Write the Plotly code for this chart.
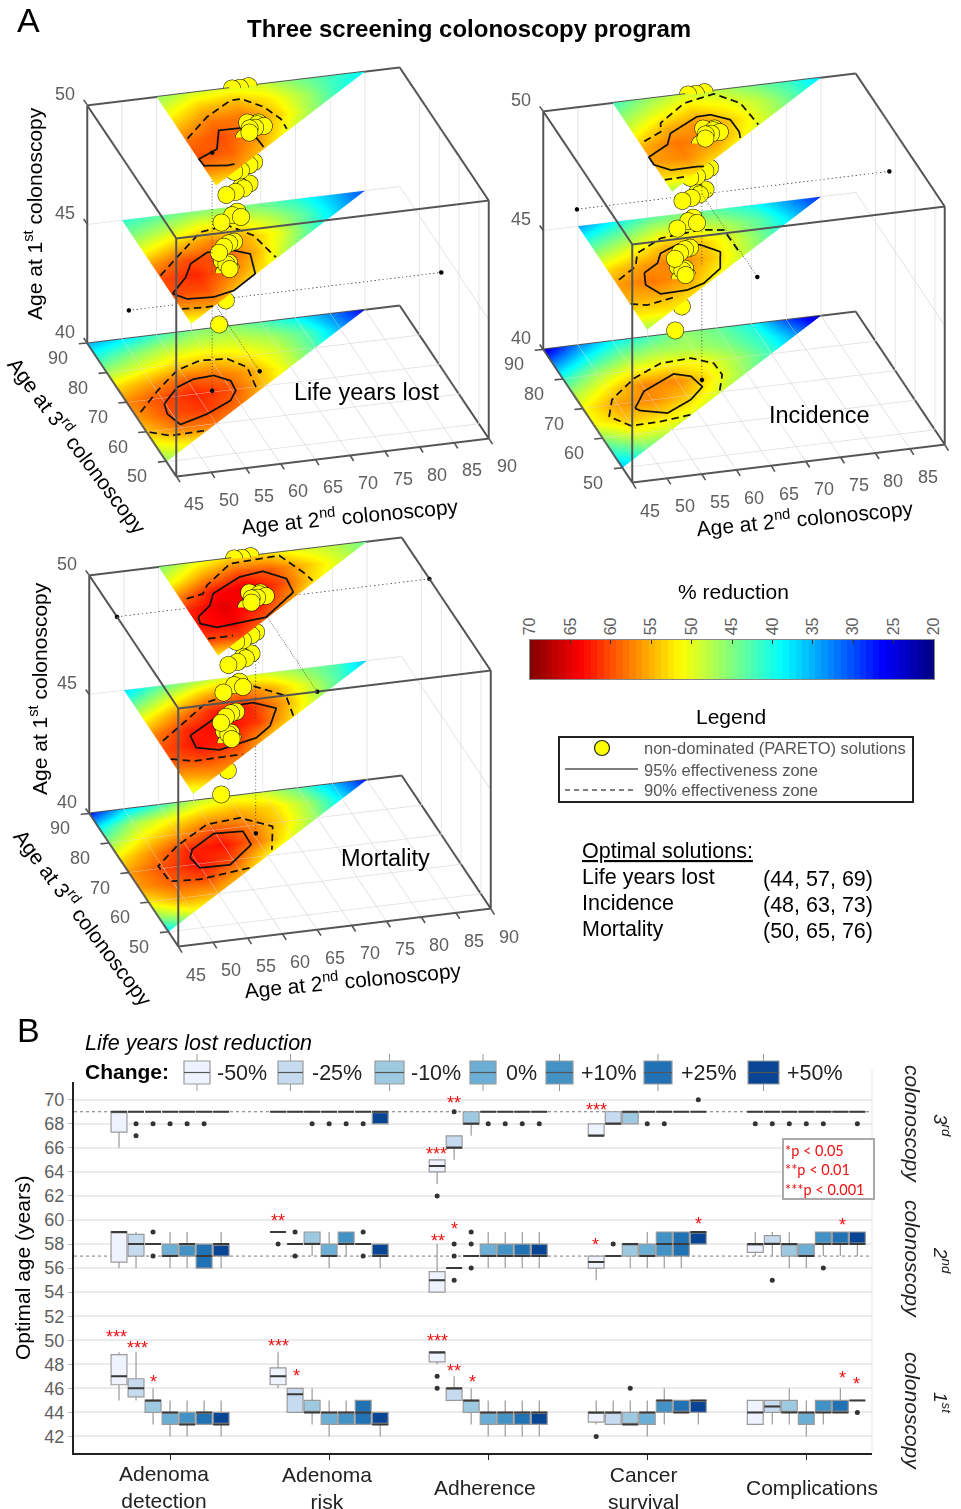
import math
import plotly.graph_objects as go

W, H = 961, 1509
def px(x): return x / W
def py(y): return 1 - y / H

# ---------- Panel A data ----------
X_TICKS = [45, 50, 55, 60, 65, 70, 75, 80, 85, 90]
Y_TICKS = [50, 60, 70, 80, 90]
Z_TICKS = [40, 45, 50]

LYL_40 = [[46,50,54,56,57,53,47,41,35],[52,58,60,60,56,50,45,38],[58,61,62,59,53,48,42],[58,60,58,54,49,45],[54,55,52,49,46],[49,49,47,43],[43,43,39],[35,33],[26]]
LYL_45 = [[50,56,60,60,56,50,45,41],[56,60,62,60,54,48,43],[54,58,60,57,51,45],[52,55,55,51,46],[47,50,48,44],[42,43,41],[36,36],[30]]
LYL_50 = [[52,57,60,58,54,50,46],[56,59,60,58,54,49],[54,57,58,55,50],[50,53,52,49],[46,47,45],[41,42],[39]]
INC_40 = [[36,41,46,51,51,47,41,33,24],[44,50,54,56,52,47,40,33],[49,53,57,57,51,45,39],[50,54,57,52,47,42],[49,52,51,47,46],[46,47,45,44],[42,41,40],[34,30],[23]]
INC_45 = [[47,52,55,56,53,47,41,34],[52,55,58,56,51,45,39],[53,56,58,55,49,43],[51,54,54,50,45],[48,49,47,43],[43,43,40],[36,34],[28]]
INC_50 = [[47,53,56,55,50,46,42],[53,57,58,55,50,46],[53,57,57,53,49],[51,53,51,48],[48,48,45],[43,42],[37]]
MOR_40 = [[38,46,52,56,56,52,46,39,27],[50,56,59,60,57,52,47,37],[55,60,63,62,56,51,42],[55,60,63,60,54,48],[52,58,58,55,50],[50,53,53,49],[46,47,44],[38,36],[27]]
MOR_45 = [[49,55,59,60,57,51,44,37],[56,60,63,62,57,50,43],[58,62,64,62,55,47],[55,61,62,58,50],[53,56,55,49],[48,49,46],[42,43],[36]]
MOR_50 = [[52,60,63,62,57,50,45],[60,64,65,63,56,50],[59,63,65,60,53],[56,60,59,53],[52,54,50],[49,48],[44]]

# Contours as (x, y) on each plane. None = gap
LYL_40_S = [(49.8,67.9),(53,72.6),(55.9,74.5),(58.9,74.9),(60.7,72.6),(60.5,69.3),(58.9,66.4),(54.6,63.1),(50.1,60.8),(49.3,64.6),(49.8,67.9)]
LYL_40_D = [(45.9,66.2),(50.1,72.3),(54.5,77.9),(58.4,80.1),(62.2,79.6),(64.1,76.2),(63.4,68.5),None,(45.3,59.6),(47.8,57.7),(52.7,58)]
LYL_45_S = [(50.1,64.8),(53.3,69.4),(55.2,73.5),(58.4,76.4),(62.1,76),(64,74.3),(62.9,67.9),(58.6,63.5),(55.3,62.2),(51.6,62.6),(50.1,64.8)]
LYL_45_D = [(50.1,70.9),(54,76.1),(59.3,83),(63.5,84.1),(66.1,79.9),(67.1,72.3),None,(50,59.7),(53.1,59.3),(54.4,59.4)]
LYL_50_S = [(59.3,65.8),(58.2,65.6),(55.1,66.4),(55,68.7),(58.3,71.1),(60.2,76.9),(63.4,76.8),(64.5,74.4),(64.7,70)]
LYL_50_D = [(55.3,75.5),(59.8,81.5),(64.4,85.8),(66,85.9),(68.3,82.5),(69.5,78.1),(69.4,74.8)]
INC_40_S = [(51.9,67.8),(54.6,72.8),(60.1,77.1),(62.2,75.7),(62.8,72),(60.1,68.4),(55.8,65.1),(52.4,66.9),(51.9,67.8)]
INC_40_D = [(58.7,63.7),(54.1,62.7),(49.8,62.5),(47.7,66.2),(49.6,71.4),(54.4,77.2),(59.3,80.9),(63.8,81.4),(66.4,78.9),(66.5,75),(64.6,69.7)]
INC_45_S = [(54.6,72.6),(53.7,68.8),(54.9,65.4),(58.8,65.6),(61.6,67.1),(65.1,71.1),(66.6,76.3),(64.6,79.2),(62,80.5),(58.5,78.1),(57.2,75.1),(54.6,72.6)]
INC_45_D = [(50.6,71.4),(54,74.9),(55.4,79),(59.9,82.8),(65.9,83.9),(69,83),(69.1,75.1),None,(50,63.4),(52.1,62.4),(56.9,64)]
INC_50_S = [(61.4,66.4),(60.5,66.6),(56.7,66.5),(54.9,68.8),(54.9,71.4),(58.5,74.6),(59.9,78),(64.9,82.2),(66.9,82.3),(69.1,80),(69.2,75.9),(68.8,73.9)]
INC_50_D = [(55.7,76.5),(58.8,78.9),(59.5,81.6),(64.4,86.9),(69.2,88.7),(71.9,84.8),(72.4,77.4),None,(55,63.7),(58.3,63.9)]
MOR_40_S = [(54.4,72),(55.4,74.5),(59.7,78.7),(63.8,78.3),(63.7,73.8),(59.1,68.3),(54.8,68.5),(54.4,72)]
MOR_40_D = [(61.4,66.6),(53.8,64.9),(49.6,65.4),(49.4,70.6),(53.7,76.2),(59.6,81.8),(64.6,82.6),(68.2,78.7),(66,71.4)]
MOR_45_S = [(54.7,73),(54.4,69),(57.3,67.4),(63.3,69.8),(66.2,73),(68.6,78.3),(66,80.9),(63.1,80.7),(59.3,77.3),(54.7,73)]
MOR_45_D = [(50.6,72.4),(54.2,76.4),(59.8,82.7),(67.5,86.1),(71,81.8),(70.2,75.3),None,(50,66.4),(52.9,64.9),(60,65.2)]
MOR_50_S = [(55.7,72.5),(55.4,70.4),(57.3,68.6),(64.7,69.9),(70.6,76.7),(70.9,81.2),(68.4,84.4),(64.8,83.5),(59.8,79.3),(58.3,75.7),(55.7,72.5)]
MOR_50_D = [(55.8,78.7),(58.4,79.6),(59.7,82.1),(64.7,88),(72,88.7),(73.7,82.5),(74.2,79.6),None,(55.1,65.4),(58.7,65.4)]

# Non-dominated solutions (2nd, 3rd, 1st)
PARETO_X = [65.8,66.9,68.2, 64,65.2,63.4,64.6,63,65.5,63.8,65.9, 64.3,63.4,61.8,60.8, 63.9,62.7,61.3,59.8,62.5, 61.9,61.9,60.9,58.8, 60.9,60.1,59.1,57.9, 59.2,59.2,58.8,60.2,59.7,58.9, 58.8,57.9]
PARETO_Y = [89.9,89.8,90, 75.9,75,72.7,74,74,75.5,74,74.2, 73.5,72.7,71.4,71.2, 74.4,73.1,72.3,71.7,73.7, 73.5,71.7,72.6,70.7, 71.7,71.4,70.5,68.8, 69.6,68,69.6,70.9,70,70.8, 68.5,68.7]
PARETO_Z = [50,50,50, 50.37,50.37,50.37,50.37,50,50.37,50.37,50.37, 49,49,49,49, 48,48,48,48,48, 47,47,47,47, 46,46,46,46, 45.37,45.37,45,45,45.37,45.37, 44,43]

OPT_LYL = (57, 69, 44)
OPT_INC = (63, 73, 48)
OPT_MOR = (65, 76, 50)

JET = [[0,'rgb(0,0,128)'],[0.125,'rgb(0,0,255)'],[0.375,'rgb(0,255,255)'],[0.625,'rgb(255,255,0)'],[0.875,'rgb(255,0,0)'],[1,'rgb(128,0,0)']]
EYE_DIR = (-0.248, -0.870, 0.426)
EYE_MAG = 1.343
ASPECT = 1.511
SCENE_S = 430
PAD_XY = 0.5
PAD_Z = 0.5
EDGE = '#555555'
GRID = '#dedede'
DASH_ON, DASH_OFF = 7.5, 4.5

fig = go.Figure()

def add_surface(scene, rows, z):
    n = len(rows)
    X, Y, C = [], [], []
    for c in range(n):
        xr, yr, vr = [], [], []
        for a in range(n):
            aa = min(a, c)
            xr.append(z + 5 + 5 * aa); yr.append(z + 10 + 5 * c); vr.append(rows[aa][c - aa])
        X.append(xr); Y.append(yr); C.append(vr)
    fig.add_trace(go.Surface(x=X, y=Y, z=[[z] * n for _ in range(n)], surfacecolor=C, cmin=20, cmax=70, colorscale=JET, showscale=False,
                             hoverinfo='skip', lighting=dict(ambient=1, diffuse=0, specular=0, roughness=0.5, fresnel=0),
                             contours=dict(x=dict(highlight=False), y=dict(highlight=False), z=dict(highlight=False)), scene=scene))

def dashed(pts):
    """Split a polyline into on/off strokes (style only), measured in on-screen lengths."""
    out, on, left = [], True, DASH_ON
    prev = None
    for p in pts:
        if p is None:
            out.append(None); prev = None; on, left = True, DASH_ON
            continue
        if prev is None:
            out.append(p); prev = p
            continue
        dx, dy = p[0] - prev[0], p[1] - prev[1]
        seg = math.hypot(6.96 * dx - 1.98 * dy, 0.84 * dx + 2.96 * dy)
        done = 0.0
        while seg - done > left:
            done += left
            t = done / seg
            q = (prev[0] + t * dx, prev[1] + t * dy)
            out.append(q)
            if on:
                out.append(None)
            on = not on
            left = DASH_ON if on else DASH_OFF
        left -= seg - done
        if on:
            out.append(p)
        prev = p
    return out

def add_contour(scene, pts, z, dash=False):
    use = dashed(pts) if dash else pts
    xs = [p[0] if p else None for p in use]
    ys = [p[1] if p else None for p in use]
    zs = [z + 0.04 if p else None for p in use]
    fig.add_trace(go.Scatter3d(x=xs, y=ys, z=zs, mode='lines', line=dict(color='#111', width=3.5),
                               hoverinfo='skip', showlegend=False, connectgaps=False, scene=scene))

def add_grid(scene):
    gx, gy, gz = [], [], []
    def seg(a, b):
        gx.extend([a[0], b[0], None]); gy.extend([a[1], b[1], None]); gz.extend([a[2], b[2], None])
    for t in X_TICKS[1:-1]:
        seg((t, 45, 40), (t, 90, 40)); seg((t, 90, 40), (t, 90, 50))
    for t in Y_TICKS[:-1]:
        seg((45, t, 40), (90, t, 40)); seg((90, t, 40), (90, t, 50))
    seg((45, 90, 45), (90, 90, 45)); seg((90, 90, 45), (90, 45, 45))
    fig.add_trace(go.Scatter3d(x=gx, y=gy, z=gz, mode='lines', line=dict(color=GRID, width=1.5), hoverinfo='skip', showlegend=False, scene=scene))

def add_box(scene):
    x0, x1, y0, y1, z0, z1 = X_TICKS[0], X_TICKS[-1], 45, 90, Z_TICKS[0], Z_TICKS[-1]
    ex, ey, ez = [], [], []
    def seg(a, b):
        ex.extend([a[0], b[0], None]); ey.extend([a[1], b[1], None]); ez.extend([a[2], b[2], None])
    for z in (z0, z1):
        seg((x0,y0,z),(x1,y0,z)); seg((x1,y0,z),(x1,y1,z)); seg((x1,y1,z),(x0,y1,z)); seg((x0,y1,z),(x0,y0,z))
    seg((x0,y0,z0),(x0,y0,z1)); seg((x1,y0,z0),(x1,y0,z1)); seg((x0,y1,z0),(x0,y1,z1))
    fig.add_trace(go.Scatter3d(x=ex, y=ey, z=ez, mode='lines', line=dict(color=EDGE, width=4), hoverinfo='skip', showlegend=False, scene=scene))

def add_opt(scene, opt):
    x, y, z = opt
    lx = [45, 90, None, x, x, None, x, x]
    ly = [y, y, None, 45, y, None, y, y]
    lz = [z, z, None, z, z, None, 40, 50]
    fig.add_trace(go.Scatter3d(x=lx, y=ly, z=lz, mode='lines', line=dict(color='#333', width=1.5, dash='dot'), hoverinfo='skip', showlegend=False, scene=scene))
    fig.add_trace(go.Scatter3d(x=[45, 90, x, x, x], y=[y, y, 45, y, y], z=[z, z, z, 40.2, 50.2], mode='markers',
                               marker=dict(color='black', size=2.6), hoverinfo='skip', showlegend=False, scene=scene))

def add_pareto(scene):
    fig.add_trace(go.Scatter3d(x=PARETO_X, y=PARETO_Y, z=PARETO_Z, mode='markers',
                               marker=dict(color='#ffff00', size=10, line=dict(color='black', width=1.5)),
                               hoverinfo='skip', showlegend=False, scene=scene))

def scene_layout(cx, cy, xticks):
    s = SCENE_S / 2
    notes = []
    gray = dict(size=18, color='#5f5f5f', family='Liberation Sans')
    tick = dict(showarrow=True, arrowhead=0, arrowwidth=1.6, arrowcolor=EDGE, standoff=0, startstandoff=0, text=' ', font=dict(size=1))
    for t in xticks:
        notes.append(dict(x=t, y=45, z=40, text=str(t), showarrow=False, xshift=18, yshift=-28, font=gray))
    for t in X_TICKS:
        notes.append(dict(tick, x=t, y=45, z=40, ax=5, ay=8))
    for t in Y_TICKS:
        notes.append(dict(x=45, y=t, z=40, text=str(t), showarrow=False, xshift=-29, yshift=-15, font=gray))
        notes.append(dict(tick, x=45, y=t, z=40, ax=-10, ay=1))
    for t in Z_TICKS:
        notes.append(dict(x=45, y=90, z=t, text=str(t), showarrow=False, xshift=-22, yshift=11, font=gray))
        notes.append(dict(tick, x=45, y=90, z=t, ax=-5, ay=-7))
    ax = dict(showbackground=False, showgrid=False, zeroline=False, showline=False,
              showticklabels=False, ticks='', title=dict(text=''), showspikes=False)
    sxy = ASPECT * (45 + 2 * PAD_XY) / 45
    return dict(domain=dict(x=[px(cx - s), px(cx + s)], y=[py(cy + s), py(cy - s)]),
                aspectmode='manual', aspectratio=dict(x=sxy, y=sxy, z=0.81 * ASPECT * (10 + 2 * PAD_Z) / 10),
                xaxis=dict(ax, range=[45 - PAD_XY, 90 + PAD_XY]),
                yaxis=dict(ax, range=[45 - PAD_XY, 90 + PAD_XY]),
                zaxis=dict(ax, range=[40 - PAD_Z, 50 + PAD_Z]),
                camera=dict(projection=dict(type='orthographic'), center=dict(x=0, y=0, z=0), up=dict(x=0, y=0, z=1),
                            eye=dict(x=EYE_DIR[0] * EYE_MAG, y=EYE_DIR[1] * EYE_MAG, z=EYE_DIR[2] * EYE_MAG)),
                annotations=notes, bgcolor='rgba(0,0,0,0)', dragmode=False)

PANELS = [
    ('scene', [(LYL_40,40,LYL_40_S,LYL_40_D),(LYL_45,45,LYL_45_S,LYL_45_D),(LYL_50,50,LYL_50_S,LYL_50_D)], OPT_LYL),
    ('scene2', [(INC_40,40,INC_40_S,INC_40_D),(INC_45,45,INC_45_S,INC_45_D),(INC_50,50,INC_50_S,INC_50_D)], OPT_INC),
    ('scene3', [(MOR_40,40,MOR_40_S,MOR_40_D),(MOR_45,45,MOR_45_S,MOR_45_D),(MOR_50,50,MOR_50_S,MOR_50_D)], OPT_MOR),
]
for scene, planes, opt in PANELS:
    add_grid(scene)
    add_box(scene)
    for rows, z, s, d in planes:
        add_surface(scene, rows, z)
        add_contour(scene, s, z)
        add_contour(scene, d, z, dash=True)
    add_opt(scene, opt)
    add_pareto(scene)

# ---------- Panel B data ----------
CATEGORIES = ['Adenoma<br>detection', 'Adenoma<br>risk', 'Adherence', 'Cancer<br>survival', 'Complications']
CHANGES = ['-50%', '-25%', '-10%', '0%', '+10%', '+25%', '+50%']
COLORS = ['#EFF3FF', '#C6DBEF', '#9ECAE1', '#6BAED6', '#4292C6', '#2171B5', '#084594']
AGE_TICKS = list(range(42, 71, 2))
REF_AGES = [69, 57, 44]
# (q1, median, q3, lower, upper) per category: 1st, 2nd, 3rd colonoscopy
BOX_M50 = [(46.3,47,48.8,45,49),(56.5,59,59,56,59),(67.3,69,69,66,69), (46.3,47,47.7,46,49),(59,59,59,59,59),(69,69,69,69,69),
           (48.2,49,49,48,49),(54,55,55.7,54,58),(64,64.5,65,63,65), (43.2,44,44,43,45),(56,56.5,57,55,57),(67,67,68,67,68),
           (43,44,45,43,45),(57.3,58,58,57,59),(69,69,69,69,69)]
BOX_M25 = [(45.3,46,46.8,45,49),(57,58,58.8,56,59),(69,69,69,69,69), (44,45.5,46,44,46),(58,58,58,58,58),(69,69,69,69,69),
           (45,46,46,45,47),(56,56,56,56,56),(66,66,67,65,67), (43,44,44,43,45),(57,57,57,57,57),(68,68,69,68,69),
           (44,44.5,45,43,45),(58,58,58.7,57,59),(69,69,69,69,69)]
BOX_M10 = [(44,45,45,43,46),(58,58,58,58,58),(69,69,69,69,69), (44,44,45,43,46),(58,58,59,57,59),(69,69,69,69,69),
           (44,45,45,43,46),(57,57,57,57,57),(68,68,69,67,69), (43,43,44,43,45),(57,58,58,56,58),(68,69,69,68,69),
           (44,44,45,43,46),(57,58,58,56,59),(69,69,69,69,69)]
BOX_0 = [(43,44,44,42,45),(57,57,58,56,59),(69,69,69,69,69), (43,44,44,42,45),(57,57,58,56,59),(69,69,69,69,69),
         (43,44,44,42,45),(57,57,58,56,59),(69,69,69,69,69), (43,44,44,42,45),(57,57,58,56,59),(69,69,69,69,69),
         (43,44,44,42,45),(57,57,58,56,58),(69,69,69,69,69)]
BOX_P10 = [(43,43,44,42,45),(57,58,58,56,59),(69,69,69,69,69), (43,44,44,43,45),(58,58,59,57,59),(69,69,69,69,69),
           (43,44,44,42,45),(57,57,58,56,59),(69,69,69,69,69), (44,45,45,43,46),(57,58,59,56,59),(69,69,69,69,69),
           (44,44,45,43,45),(58,58,59,57,59),(69,69,69,69,69)]
BOX_P25 = [(43,44,44,43,45),(56,57,58,56,58),(69,69,69,69,69), (43,44,45,43,45),(58,58,58,58,58),(69,69,69,69,69),
           (43,44,44,42,45),(57,57,58,56,59),(69,69,69,69,69), (44,44,45,44,45),(57,58,59,56,59),(69,69,69,69,69),
           (44,44,45,44,46),(58,58,59,57,59),(69,69,69,69,69)]
BOX_P50 = [(43,43,44,42,45),(57,58,58,56,59),(69,69,69,69,69), (43,43,44,42,44),(57,57,58,56,58),(68,69,69,68,69),
           (43,44,44,42,45),(57,57,58,56,59),(69,69,69,69,69), (44,45,45,43,45),(58,59,59,58,59),(69,69,69,69,69),
           (45,45,45,45,45),(58,58,59,57,59),(69,69,69,69,69)]
ALL_BOXES = [BOX_M50, BOX_M25, BOX_M10, BOX_0, BOX_P10, BOX_P25, BOX_P50]
# outliers: (category index, age)
OUT_M50 = [(1,58),(2,62),(2,47),(2,46),(3,42),(4,68)]
OUT_M25 = [(0,68),(0,67),(1,59),(1,57),(2,69),(2,58),(2,57),(2,55),(3,58),(4,68),(4,55)]
OUT_M10 = [(0,68),(0,59),(0,57),(1,68),(2,59),(2,58),(2,56),(3,46),(4,68)]
OUT_0 = [(0,68),(1,68),(2,68),(3,68),(4,68)]
OUT_P10 = [(0,68),(1,68),(2,68),(3,68),(4,68),(4,56)]
OUT_P25 = [(0,68),(1,68),(1,59),(1,57),(2,68)]
OUT_P50 = [(2,68),(3,70),(4,68),(4,44)]
ALL_OUT = [OUT_M50, OUT_M25, OUT_M10, OUT_0, OUT_P10, OUT_P25, OUT_P50]
# significance: (stars, x position in category units, age)
STARS = [('***',-.335,50.5),('***',-.207,49.6),('*',-.107,46.8),('**',.68,60.2),('***',.68,49.8),('*',.797,47.3),
         ('***',1.678,65.7),('**',1.786,70),('**',1.686,58.5),('*',1.786,59.5),('***',1.68,50.2),('**',1.786,47.7),('*',1.899,46.8),
         ('***',2.68,69.4),('*',2.677,58.2),('*',3.32,59.9),('*',4.227,59.8),('*',4.227,47.1),('*',4.317,46.6)]

STEP = 0.107
BOX_W = 0.1
for i, (stats, col) in enumerate(zip(ALL_BOXES, COLORS)):
    pos = [c + (i - 3) * STEP for c in range(5) for _ in range(3)]
    fig.add_trace(go.Box(x=pos, q1=[s[0] for s in stats], median=[s[1] for s in stats], q3=[s[2] for s in stats],
                         lowerfence=[s[3] for s in stats], upperfence=[s[4] for s in stats], boxpoints=False, width=BOX_W,
                         fillcolor=col, line=dict(color='#9a9a9a', width=1.2), whiskerwidth=0, name=CHANGES[i], showlegend=False,
                         hoverinfo='skip', xaxis='x', yaxis='y'))
    fig.add_trace(go.Box(x=pos, q1=[s[1] for s in stats], median=[s[1] for s in stats], q3=[s[1] for s in stats],
                         lowerfence=[s[1] for s in stats], upperfence=[s[1] for s in stats], boxpoints=False, width=BOX_W,
                         fillcolor='rgba(0,0,0,0)', line=dict(color='#3a3a3a', width=2), whiskerwidth=0, showlegend=False,
                         hoverinfo='skip', xaxis='x', yaxis='y'))
    if ALL_OUT[i]:
        fig.add_trace(go.Scatter(x=[o[0] + (i - 3) * STEP for o in ALL_OUT[i]], y=[o[1] for o in ALL_OUT[i]], mode='markers',
                                 marker=dict(color='#333', size=5), showlegend=False, hoverinfo='skip', xaxis='x', yaxis='y'))

# ---------- Colour bar ----------
CBAR_TICKS = [70, 65, 60, 55, 50, 45, 40, 35, 30, 25, 20]
CBAR_LEVELS = [20 + i * 50 / 63 for i in range(64)]
fig.add_trace(go.Heatmap(x=CBAR_LEVELS, y=[0, 1], z=[CBAR_LEVELS, CBAR_LEVELS], zmin=20, zmax=70, colorscale=JET, showscale=False,
                         hoverinfo='skip', xaxis='x2', yaxis='y2'))

shapes, ann = [], []
def text(x, y, s, size, color='black', anchor='center', angle=0, family='Liberation Sans', **kw):
    ann.append(dict(xref='paper', yref='paper', x=px(x - 2 if anchor == 'left' else x), y=py(y), text=s, showarrow=False, xanchor=anchor, yanchor='middle',
                    textangle=angle, font=dict(size=size, color=color, family=family), **kw))
def rect(x0, y0, x1, y1, line, width, fill='rgba(0,0,0,0)'):
    shapes.append(dict(type='rect', xref='paper', yref='paper', x0=px(x0), x1=px(x1), y0=py(y0), y1=py(y1), line=dict(color=line, width=width), fillcolor=fill))
def pline(x0, y0, x1, y1, color, width, dash='solid'):
    shapes.append(dict(type='line', xref='paper', yref='paper', x0=px(x0), x1=px(x1), y0=py(y0), y1=py(y1), line=dict(color=color, width=width, dash=dash)))

text(28, 20, 'A', 34)
text(28, 1030, 'B', 34)
text(469, 28, '<b>Three screening colonoscopy program</b>', 24)
text(366, 392, 'Life years lost', 23.5)
text(819, 415, 'Incidence', 23.5)
text(385, 858, 'Mortality', 23.5)
AGE1 = 'Age at 1<sup>st</sup> colonoscopy'
AGE2 = 'Age at 2<sup>nd</sup> colonoscopy'
AGE3 = 'Age at 3<sup>rd</sup> colonoscopy'
text(33, 214, AGE1, 21, angle=-90)
text(38, 689, AGE1, 21, angle=-90)
text(78, 445, AGE3, 21, angle=53)
text(84, 917, AGE3, 21, angle=53)
text(350, 515, AGE2, 21, angle=-5.5)
text(805, 517, AGE2, 21, angle=-5.5)
text(353, 979, AGE2, 21, angle=-5.5)

text(733, 591, '% reduction', 21)
text(731, 717, 'Legend', 21)
rect(559, 737, 913, 802, '#222', 2)
shapes.append(dict(type='circle', xref='paper', yref='paper', x0=px(594.5), x1=px(609.5), y0=py(740.5), y1=py(755.5), fillcolor='#ffff00', line=dict(color='#222', width=1.2)))
pline(565, 769, 638, 769, '#555', 1.5)
pline(565, 790, 636, 790, '#555', 1.5, '5px,4px')
LEGEND_TXT = ['non-dominated (PARETO) solutions', '95% effectiveness zone', '90% effectiveness zone']
for y, s in zip([748.5, 769.5, 790], LEGEND_TXT):
    text(644, y, s, 16.5, color='#555', anchor='left')
text(582, 851, '<u>Optimal solutions:</u>', 21.5, anchor='left')
SOLUTIONS = [('Life years lost', OPT_LYL), ('Incidence', OPT_INC), ('Mortality', OPT_MOR)]
for y, (name, o) in zip([877, 903, 929], SOLUTIONS):
    text(582, y, name, 21.5, anchor='left')
    text(763, y + 2, f'({o[2]}, {o[0]}, {o[1]})', 21.5, anchor='left')

# Panel B surrounding text
text(85, 1043, '<i>Life years lost reduction</i>', 21.5, anchor='left')
text(85, 1071, '<b>Change:</b>', 21, anchor='left')
KEY_X = [(184,210,217),(278,303,312),(375,404,411),(470,496,506),(546,573,581),(644,672,681),(748,779,787)]
for (a, b, t), col, lab in zip(KEY_X, COLORS, CHANGES):
    m = (a + b) / 2
    pline(m, 1054, m, 1091, '#999', 1)
    rect(a, 1061, b, 1084, '#999', 1.2, col)
    pline(a, 1072.5, b, 1072.5, '#555', 1.2)
    text(t, 1073, lab, 21.5, color='#222', anchor='left')
text(22, 1268, 'Optimal age (years)', 21, angle=-90)
pline(872, 1070, 872, 1453, '#e6e6e6', 1)
for s, yc in zip(['3<sup>rd</sup>', '2<sup>nd</sup>', '1<sup>st</sup>'], [1125, 1260, 1403]):
    text(942, yc, f'<i>{s}</i>', 19, angle=90, color='#222')
for yc in [1124, 1259, 1411]:
    text(913, yc, '<i>colonoscopy</i>', 21, angle=90, color='#222')
for (cx, y), lab in zip([(164,1487),(327,1488),(485,1487),(643,1488),(812,1487)], CATEGORIES):
    text(cx, y, lab, 21, color='#222')
for s, xv, yv in STARS:
    ann.append(dict(xref='x', yref='y', x=xv, y=yv, yshift=-3, text=s, showarrow=False, font=dict(size=18, color='#ee1111', family='Liberation Sans')))
rect(783, 1139, 874, 1199, '#aaa', 2, 'white')
for y, s in zip([1150, 1169.5, 1189], ['*p &lt; 0.05', '**p &lt; 0.01', '***p &lt; 0.001']):
    text(785, y, s, 14.5, color='#ee1111', anchor='left', family='Lato')
for a in REF_AGES:
    shapes.append(dict(type='line', xref='paper', yref='y', x0=px(74), x1=px(872), y0=a, y1=a, line=dict(color='#777', width=1, dash='dot'), layer='below'))

fig.update_layout(
    width=W, height=H, margin=dict(l=0, r=0, t=0, b=0, autoexpand=False), paper_bgcolor='white', plot_bgcolor='white',
    showlegend=False, boxmode='overlay', shapes=shapes, annotations=ann,
    scene=scene_layout(288, 271.5, X_TICKS), scene2=scene_layout(744, 278, X_TICKS[:-1]), scene3=scene_layout(290, 742, X_TICKS),
    xaxis=dict(domain=[px(74), px(872)], range=[-.604, 4.413], tickvals=list(range(5)), ticktext=['']*5, ticks='outside', ticklen=5,
               tickcolor='#222', showgrid=False, zeroline=False, showline=True, linecolor='#222', linewidth=2, anchor='y'),
    yaxis=dict(domain=[py(1453.3), py(1081.7)], range=[40.6, 71.5], tickvals=AGE_TICKS, ticks='outside', ticklen=4, tickcolor='#bbb', showgrid=True, gridcolor='#ebebeb', gridwidth=1.5,
               zeroline=False, showline=True, linecolor='#222', linewidth=2, anchor='x', tickfont=dict(size=18, color='#5f5f5f', family='Liberation Sans')),
    xaxis2=dict(domain=[px(530), px(934)], range=[70, 20], tickvals=CBAR_TICKS, side='top', ticks='inside', ticklen=4, tickcolor='#333', tickangle=-90,
                tickfont=dict(size=16, color='#5f5f5f', family='Liberation Sans'), anchor='y2', showline=True, mirror=True, linecolor='#888', showgrid=False, zeroline=False),
    yaxis2=dict(domain=[py(679), py(639.5)], range=[0, 1], showticklabels=False, ticks='', anchor='x2', showline=True, mirror=True, linecolor='#888', showgrid=False, zeroline=False),
)
fig.write_html('out.html', config={'displayModeBar': False}, post_script="document.body.style.margin='0';document.body.style.overflow='hidden';")
